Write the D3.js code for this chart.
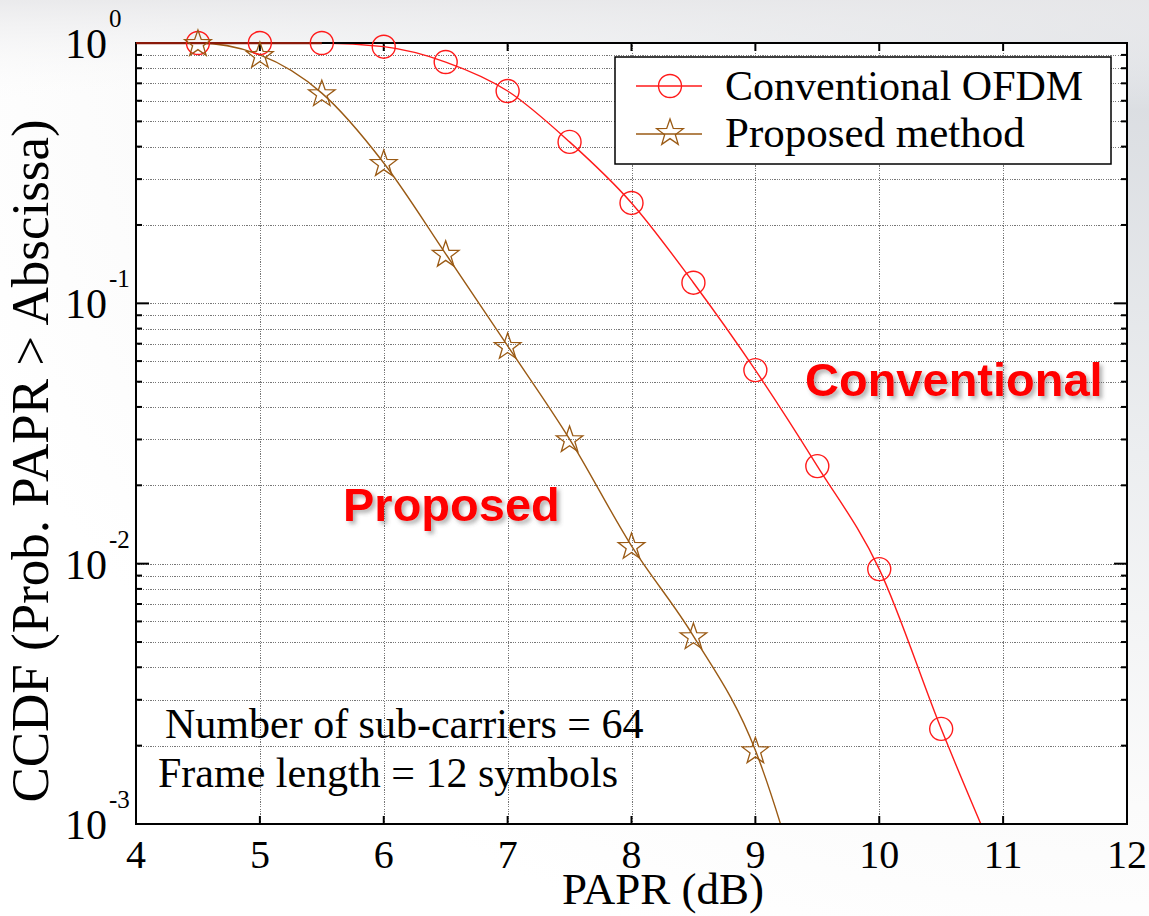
<!DOCTYPE html>
<html>
<head>
<meta charset="utf-8">
<script src="https://cdn.jsdelivr.net/npm/d3@7"></script>
<style>
  html, body { margin: 0; padding: 0; background: #ffffff; }
  svg { display: block; }
  .serif { font-family: "Liberation Serif", "Times New Roman", serif; }
</style>
</head>
<body>
<svg id="chart" width="1149" height="916"></svg>
<script>
// PAPR thresholds (dB) and CCDF values for each scheme
const paprConventional = [4, 4.5, 5, 5.5, 6, 6.5, 7, 7.5, 8, 8.5, 9, 9.5, 10, 10.5, 11];
const ccdfConventional = [1, 1, 1, 1, 0.968, 0.845, 0.654, 0.417, 0.243, 0.120, 0.0554, 0.0237, 0.00953, 0.00232, 0.00063];

const paprProposed = [4, 4.5, 5, 5.5, 6, 6.5, 7, 7.5, 8, 8.5, 9, 9.5];
const ccdfProposed = [1, 1, 0.90, 0.642, 0.346, 0.155, 0.0686, 0.0301, 0.0117, 0.00527, 0.00192, 0.00032];

const xTicks = [4, 5, 6, 7, 8, 9, 10, 11, 12];
const yMajorTicks = [1e-3, 1e-2, 1e-1, 1];
const yTickExponents = ["-3", "-2", "-1", "0"];

const seriesNames = ["Conventional OFDM", "Proposed method"];
const seriesColors = ["#ff1a1a", "#9a5a14"];

const svg = d3.select("#chart");
const W = 1149, H = 916;
const plot = { left: 136, top: 43, right: 1127, bottom: 824 };

const x = d3.scaleLinear().domain([4, 12]).range([plot.left, plot.right]);
const y = d3.scaleLog().domain([1e-3, 1]).range([plot.bottom, plot.top]);

const defs = svg.append("defs");

// soft grey backdrop, darker toward the upper right
const bg = defs.append("radialGradient").attr("id", "bg")
  .attr("cx", 1).attr("cy", 0).attr("r", 1.1);
bg.append("stop").attr("offset", "0").attr("stop-color", "#d6d9de");
bg.append("stop").attr("offset", "0.45").attr("stop-color", "#eceef0");
bg.append("stop").attr("offset", "0.8").attr("stop-color", "#fbfbfb");
bg.append("stop").attr("offset", "1").attr("stop-color", "#ffffff");
svg.append("rect").attr("width", W).attr("height", H).attr("fill", "url(#bg)");
const topBand = defs.append("linearGradient").attr("id", "topBand")
  .attr("x1", 0).attr("y1", 0).attr("x2", 0).attr("y2", 1);
topBand.append("stop").attr("offset", "0").attr("stop-color", "#e8e8ea").attr("stop-opacity", 0.9);
topBand.append("stop").attr("offset", "1").attr("stop-color", "#ffffff").attr("stop-opacity", 0);
svg.append("rect").attr("width", W).attr("height", 110).attr("fill", "url(#topBand)");

// drop shadow for the bold annotations
const shadow = defs.append("filter").attr("id", "shadow")
  .attr("x", "-10%").attr("y", "-20%").attr("width", "130%").attr("height", "150%");
shadow.append("feDropShadow").attr("dx", 3).attr("dy", 3).attr("stdDeviation", 2)
  .attr("flood-color", "#555").attr("flood-opacity", 0.45);

defs.append("clipPath").attr("id", "plotClip").append("rect")
  .attr("x", plot.left).attr("y", plot.top - 1)
  .attr("width", plot.right - plot.left).attr("height", plot.bottom - plot.top + 1);

// plot area
svg.append("rect")
  .attr("x", plot.left).attr("y", plot.top)
  .attr("width", plot.right - plot.left).attr("height", plot.bottom - plot.top)
  .attr("fill", "#ffffff");

// minor + major values for the log axis
const yAllTicks = [];
for (let e = -3; e < 0; e++) {
  for (let m = 1; m <= 9; m++) yAllTicks.push(m * Math.pow(10, e));
}
yAllTicks.push(1);

const grid = svg.append("g").attr("stroke", "#777").attr("stroke-width", 1)
  .attr("stroke-dasharray", "1.2,1.2").attr("shape-rendering", "crispEdges");
grid.selectAll("line.h").data(yAllTicks.filter(v => v < 1 && v > 1e-3)).join("line")
  .attr("class", "h")
  .attr("x1", plot.left).attr("x2", plot.right)
  .attr("y1", d => Math.round(y(d)) + 0.5).attr("y2", d => Math.round(y(d)) + 0.5);
grid.selectAll("line.v").data(xTicks.filter(v => v > 4 && v < 12)).join("line")
  .attr("class", "v")
  .attr("y1", plot.top).attr("y2", plot.bottom)
  .attr("x1", d => Math.round(x(d)) + 0.5).attr("x2", d => Math.round(x(d)) + 0.5);

// inward tick marks on all four sides
const ticks = svg.append("g").attr("stroke", "#000").attr("stroke-width", 2);
const isMajor = v => yMajorTicks.some(m => Math.abs(Math.log10(v) - Math.log10(m)) < 1e-6);
yAllTicks.forEach(v => {
  const len = isMajor(v) ? 13 : 6;
  const yy = y(v);
  ticks.append("line").attr("x1", plot.left).attr("x2", plot.left + len).attr("y1", yy).attr("y2", yy);
  ticks.append("line").attr("x1", plot.right).attr("x2", plot.right - len).attr("y1", yy).attr("y2", yy);
});
xTicks.forEach(v => {
  const xx = x(v);
  ticks.append("line").attr("x1", xx).attr("x2", xx).attr("y1", plot.bottom).attr("y2", plot.bottom - 8);
  ticks.append("line").attr("x1", xx).attr("x2", xx).attr("y1", plot.top).attr("y2", plot.top + 8);
});

// star marker path centred on (cx, cy)
function starPath(cx, cy, R, r) {
  const pts = [];
  for (let i = 0; i < 10; i++) {
    const a = -Math.PI / 2 + i * Math.PI / 5;
    const rad = i % 2 === 0 ? R : r;
    pts.push([cx + rad * Math.cos(a), cy + rad * Math.sin(a)]);
  }
  return "M" + pts.map(p => p.join(",")).join("L") + "Z";
}

const line = d3.line().x(d => x(d[0])).y(d => y(d[1])).curve(d3.curveMonotoneX);
const convData = paprConventional.map((p, i) => [p, ccdfConventional[i]]);
const propData = paprProposed.map((p, i) => [p, ccdfProposed[i]]);

const curves = svg.append("g").attr("clip-path", "url(#plotClip)");
curves.append("path").datum(convData).attr("d", line)
  .attr("fill", "none").attr("stroke", seriesColors[0]).attr("stroke-width", 1.4);
curves.append("path").datum(propData).attr("d", line)
  .attr("fill", "none").attr("stroke", seriesColors[1]).attr("stroke-width", 1.4);

// frame
svg.append("rect")
  .attr("x", plot.left).attr("y", plot.top)
  .attr("width", plot.right - plot.left).attr("height", plot.bottom - plot.top)
  .attr("fill", "none").attr("stroke", "#000").attr("stroke-width", 2);

// redraw the curves' flat start over the top border
svg.append("g").attr("clip-path", "url(#plotClip)")
  .append("path").datum(convData.filter(d => d[1] >= 1)).attr("d", line)
  .attr("fill", "none").attr("stroke", "#8a1a0a").attr("stroke-width", 2.5);

// markers (sampled every 0.5 dB, from 4.5 dB)
const markers = svg.append("g");
markers.selectAll("circle").data(convData.filter(d => d[0] > 4 && d[1] >= 1e-3)).join("circle")
  .attr("cx", d => x(d[0])).attr("cy", d => y(d[1])).attr("r", 11.5)
  .attr("fill", "none").attr("stroke", seriesColors[0]).attr("stroke-width", 1.4);
markers.selectAll("path.star").data(propData.filter(d => d[0] > 4 && d[1] >= 1e-3)).join("path")
  .attr("class", "star")
  .attr("d", d => starPath(x(d[0]), y(d[1]) + 1, 14, 5.6))
  .attr("fill", "none").attr("stroke", seriesColors[1]).attr("stroke-width", 1.3);

// x tick labels
svg.append("g").attr("class", "serif").selectAll("text").data(xTicks).join("text")
  .attr("x", d => x(d)).attr("y", 868)
  .attr("text-anchor", "middle").attr("font-size", 40).attr("fill", "#000")
  .text(d => d);

// y tick labels as 10 with superscript exponent
const yl = svg.append("g").attr("class", "serif");
yMajorTicks.forEach((v, i) => {
  const t = yl.append("text").attr("x", 65).attr("y", y(v) + 15)
    .attr("font-size", 42).attr("fill", "#000");
  t.append("tspan").text("10");
  t.append("tspan").attr("font-size", 25).attr("dy", -31).attr("dx", 2).text(yTickExponents[i]);
});

// axis titles
svg.append("text").attr("class", "serif")
  .attr("x", 663).attr("y", 904).attr("text-anchor", "middle")
  .attr("font-size", 45).attr("fill", "#000").text("PAPR (dB)");
svg.append("text").attr("class", "serif")
  .attr("transform", "translate(48,461) rotate(-90)").attr("text-anchor", "middle")
  .attr("font-size", 53).attr("fill", "#000").text("CCDF (Prob. PAPR > Abscissa)");

// legend
const lg = svg.append("g");
lg.append("rect").attr("x", 615).attr("y", 57).attr("width", 496).attr("height", 107)
  .attr("fill", "#fff").attr("stroke", "#000").attr("stroke-width", 1.5);
const legendRows = [86, 134];
lg.append("line").attr("x1", 636).attr("x2", 702).attr("y1", legendRows[0]).attr("y2", legendRows[0])
  .attr("stroke", seriesColors[0]).attr("stroke-width", 1.4);
lg.append("circle").attr("cx", 670).attr("cy", legendRows[0]).attr("r", 11.5)
  .attr("fill", "none").attr("stroke", seriesColors[0]).attr("stroke-width", 1.4);
lg.append("line").attr("x1", 636).attr("x2", 702).attr("y1", legendRows[1]).attr("y2", legendRows[1])
  .attr("stroke", seriesColors[1]).attr("stroke-width", 1.4);
lg.append("path").attr("d", starPath(670, legendRows[1] - 1, 14, 5.6))
  .attr("fill", "none").attr("stroke", seriesColors[1]).attr("stroke-width", 1.3);
lg.selectAll("text").data(seriesNames).join("text").attr("class", "serif")
  .attr("x", 725).attr("y", (d, i) => [100, 147][i])
  .attr("font-size", (d, i) => [42, 43][i]).attr("fill", "#000").text(d => d);

// parameter notes
const notes = svg.append("g").attr("class", "serif").attr("font-size", 42).attr("fill", "#000");
notes.append("text").attr("x", 165).attr("y", 738).text("Number of sub-carriers = 64");
notes.append("text").attr("x", 158).attr("y", 787).text("Frame length = 12 symbols");

// curve labels
const labels = svg.append("g")
  .attr("font-family", "'Liberation Sans', Arial, sans-serif").attr("font-weight", "bold")
  .attr("font-size", 47).attr("fill", "#ff0000").attr("filter", "url(#shadow)");
labels.append("text").attr("x", 343).attr("y", 521).text("Proposed");
labels.append("text").attr("x", 805).attr("y", 396).text("Conventional");
</script>
</body>
</html>
